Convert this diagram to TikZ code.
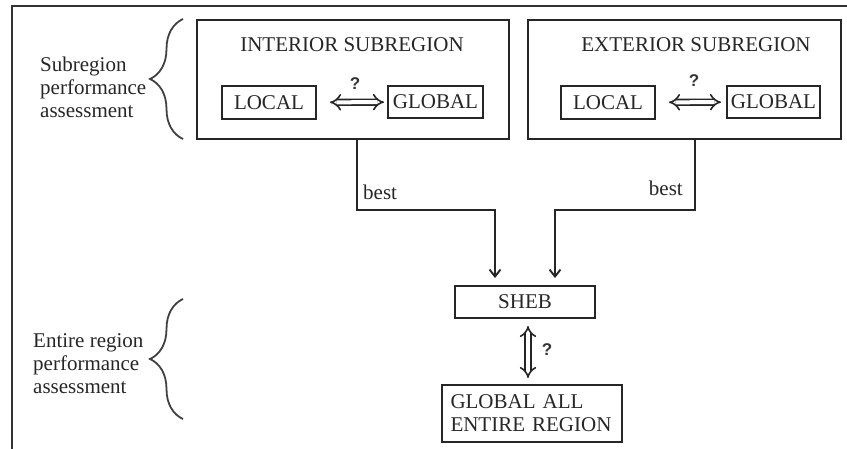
\documentclass[tikz,border=0pt]{standalone}
\usepackage{fontspec}
\setmainfont{Liberation Serif}
\newfontfamily\qfont{Liberation Sans}
\usetikzlibrary{arrows.meta,decorations.pathreplacing}
\begin{document}
\begin{tikzpicture}[x=1pt,y=-1pt,
  every node/.style={font=\fontsize{21}{23}\selectfont, inner sep=0pt, text=black!85},
  box/.style={draw=black!85, line width=1.9pt, rectangle},
  dbl/.style={double=white, draw=black!85, double distance=4pt, line width=1.6pt, {Implies[length=9pt]}-{Implies[length=9pt]}},
  arr/.style={draw=black!85, line width=1.9pt, -{Straight Barb[length=7pt,width=11pt,line width=1.9pt]}},
  qmark/.style={font=\qfont\bfseries\fontsize{17}{17}\selectfont, text=black!80},
  brc/.style={draw=black!75, line width=1.8pt, decorate, decoration={brace, amplitude=33pt}}]
\useasboundingbox (0,0) rectangle (847,449);
% frame
\draw[line width=2.4pt, draw=black!80] (12,449) -- (12,6) -- (847,6);
% subregion boxes
\node[box, minimum width=312pt, minimum height=119pt] (int) at (353,79.5) {};
\node[box, minimum width=313pt, minimum height=119pt] (ext) at (684.5,79.5) {};
\node (intt) at (352,45) {INTERIOR SUBREGION};
\node (extt) at (696,45) {EXTERIOR SUBREGION};
\node[box, minimum width=94pt, minimum height=33pt] (il) at (269,102.5) {LOCAL};
\node[box, minimum width=95pt, minimum height=32pt] (ig) at (435.5,102) {GLOBAL};
\node[box, minimum width=94pt, minimum height=33pt] (el) at (608,102.5) {LOCAL};
\node[box, minimum width=93pt, minimum height=32pt] (eg) at (773.5,102) {GLOBAL};
\draw[dbl, shorten <=13pt, shorten >=3pt] (il) -- (ig);
\draw[dbl, shorten <=13pt, shorten >=5pt] (el) -- (eg);
\node[qmark] (q1) at (355,84) {?};
\node[qmark] (q2) at (694,81) {?};
% lower boxes
\node[box, minimum width=140pt, minimum height=32pt] (sheb) at (525,302) {SHEB};
\node[box, minimum width=180pt, minimum height=57pt, align=left, text width=163pt, inner xsep=8pt] (glob) at (532,413.5) {GLOBAL ALL\\ENTIRE REGION};
\draw[dbl, shorten <=7pt, shorten >=6pt] ([xshift=3pt]sheb.south) -- ([xshift=-4pt]glob.north);
\node[qmark] (q3) at (547,350) {?};
% best connectors
\draw[arr, shorten >=7pt] ([xshift=4pt]int.south) -- ++(0,70) -| ([xshift=-30pt]sheb.north);
\draw[arr, shorten >=7pt] ([xshift=10.5pt]ext.south) -- ++(0,70) -| ([xshift=30pt]sheb.north);
\node[anchor=west] (b1) at (363,192) {best};
\node[anchor=east] (b2) at (683,188) {best};
% braces and side labels
\draw[brc] (183,139) -- (183,19);
\draw[brc] (183,419) -- (183,299);
\node[anchor=west, align=left] (s1) at (40,87) {Subregion\\performance\\assessment};
\node[anchor=west, align=left] (s2) at (33,364) {Entire region\\performance\\assessment};
\end{tikzpicture}
\end{document}
